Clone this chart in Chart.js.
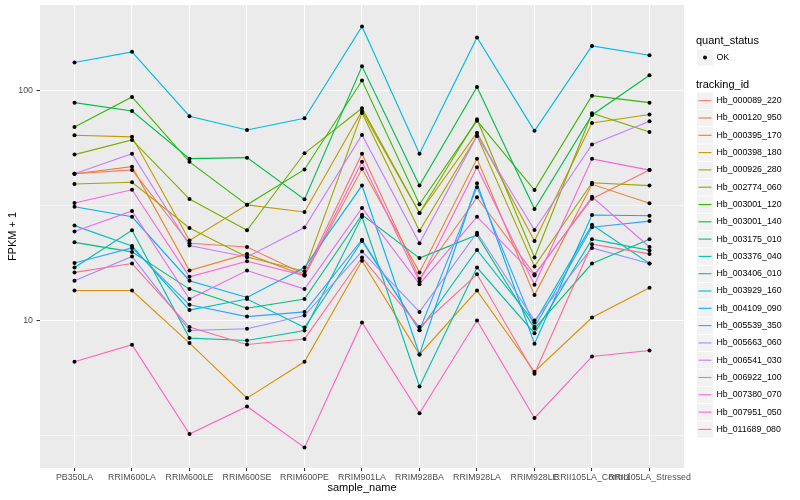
<!DOCTYPE html>
<html><head><meta charset="utf-8">
<script src="https://cdn.jsdelivr.net/npm/chart.js@4.4.1/dist/chart.umd.min.js"></script>
<style>html,body{margin:0;padding:0;background:#fff;} #wrap{width:800px;height:500px;}</style>
</head><body><div id="wrap"><canvas id="c" width="800" height="500"></canvas></div>
<script>
const categories = ["PB350LA","RRIM600LA","RRIM600LE","RRIM600SE","RRIM600PE","RRIM901LA","RRIM928BA","RRIM928LA","RRIM928LE","RRII105LA_Control","RRII105LA_Stressed"];
const trackingIds = ["Hb_000089_220","Hb_000120_950","Hb_000395_170","Hb_000398_180","Hb_000926_280","Hb_002774_060","Hb_003001_120","Hb_003001_140","Hb_003175_010","Hb_003376_040","Hb_003406_010","Hb_003929_160","Hb_004109_090","Hb_005539_350","Hb_005663_060","Hb_006541_030","Hb_006922_100","Hb_007380_070","Hb_007951_050","Hb_011689_080"];

const hb000089_220 = [43.6, 45.3, 21.7, 20.9, 15.9, 53.3, 15.2, 34.4, 15.9, 33.9, 45.2];
const hb000120_950 = [43.6, 46.8, 16.5, 19.5, 15.7, 45.8, 16.2, 50.6, 12.9, 39.2, 32.4];
const hb000395_170 = [13.5, 13.5, 7.97, 4.59, 6.61, 18.2, 7.11, 13.5, 5.98, 10.3, 13.9];
const hb000398_180 = [64.1, 63.1, 22.3, 31.9, 29.7, 81.8, 29.4, 65.8, 22.2, 72.5, 78.9];
const hb000926_280 = [39.3, 40.0, 25.3, 18.9, 16.4, 80.2, 24.6, 63.7, 17.2, 39.8, 38.7];
const hb002774_060 = [52.8, 61.2, 33.8, 24.7, 53.5, 84.1, 29.4, 75.3, 18.8, 80.0, 66.3];
const hb003001_120 = [69.7, 94.2, 49.1, 31.9, 45.5, 111, 32.1, 74.2, 37.0, 95.4, 88.9];
const hb003001_140 = [88.9, 81.8, 50.7, 51.2, 33.7, 128, 38.7, 104, 30.6, 78.6, 117];
const hb003175_010 = [21.9, 19.9, 13.7, 11.3, 12.4, 28.9, 18.7, 23.6, 9.22, 17.7, 22.6];
const hb003376_040 = [17.0, 24.7, 8.38, 8.18, 9.05, 28.3, 5.16, 17.0, 8.80, 22.6, 20.2];
const hb003406_010 = [25.9, 21.1, 11.1, 12.4, 9.32, 22.2, 9.07, 20.3, 9.80, 26.1, 17.7];
const hb003929_160 = [133, 148, 77.6, 67.6, 76.0, 191, 53.3, 171, 67.0, 157, 143];
const hb004109_090 = [31.3, 28.3, 14.9, 12.6, 17.0, 38.7, 7.11, 39.6, 7.92, 28.8, 28.6];
const hb005539_350 = [17.8, 20.7, 11.7, 10.4, 10.9, 22.5, 9.07, 38.1, 9.36, 25.5, 27.1];
const hb005663_060 = [14.9, 19.0, 9.05, 9.20, 10.5, 20.0, 10.9, 24.1, 10.0, 20.7, 17.7];
const hb006541_030 = [43.6, 53.3, 21.2, 18.9, 25.4, 64.3, 21.7, 63.7, 24.8, 58.4, 73.8];
const hb006922_100 = [24.4, 30.0, 12.4, 16.5, 13.7, 30.9, 14.4, 28.3, 15.7, 34.6, 20.9];
const hb007380_070 = [32.5, 37.1, 15.5, 18.1, 15.7, 49.2, 14.8, 46.5, 14.3, 50.6, 45.2];
const hb007951_050 = [6.61, 7.84, 3.20, 4.22, 2.80, 9.80, 3.94, 10.0, 3.76, 6.97, 7.40];
const hb011689_080 = [16.2, 17.7, 9.36, 7.86, 8.31, 18.8, 9.36, 15.9, 5.86, 21.5, 19.5];

const yTickLabels = [10, 100];
const yMinorBreaks = [3.1623, 31.623];
const yRange = [2.277, 236.8];

const seriesValues = [hb000089_220, hb000120_950, hb000395_170, hb000398_180, hb000926_280, hb002774_060, hb003001_120, hb003001_140, hb003175_010, hb003376_040, hb003406_010, hb003929_160, hb004109_090, hb005539_350, hb005663_060, hb006541_030, hb006922_100, hb007380_070, hb007951_050, hb011689_080];
const palette = ["#F8766D","#EA8331","#D89000","#C09B00","#A3A500","#7CAE00","#39B600","#00BB4E","#00BF7D","#00C1A3","#00BFC4","#00BAE0","#00B0F6","#35A2FF","#9590FF","#C77CFF","#E76BF3","#FA62DB","#FF62BC","#FF6C91"];

const FONT = '"Liberation Sans", Arial, sans-serif';

const datasets = seriesValues.map((vals, i) => ({
  label: trackingIds[i],
  data: vals.map((v, j) => ({x: j, y: v})),
  borderColor: palette[i],
  backgroundColor: palette[i],
  borderWidth: 1.1,
  pointRadius: 0,
  tension: 0,
  fill: false,
  order: 40 - i
}));
datasets.push({
  label: 'OK',
  data: seriesValues.flatMap(vals => vals.map((v, j) => ({x: j, y: v}))),
  showLine: false,
  pointRadius: 2,
  pointBackgroundColor: '#000',
  pointBorderWidth: 0,
  borderColor: '#000',
  order: -1
});

const panelBg = {
  id: 'panelBg',
  beforeDraw(chart) {
    const a = chart.chartArea, ctx = chart.ctx;
    ctx.save();
    ctx.fillStyle = '#EBEBEB';
    ctx.fillRect(a.left, a.top, a.right - a.left, a.bottom - a.top);
    ctx.restore();
  }
};

const ggLegend = {
  id: 'ggLegend',
  afterDraw(chart) {
    const ctx = chart.ctx;
    const x0 = chart.chartArea.right + 13;
    ctx.save();
    ctx.textBaseline = 'middle';
    ctx.textAlign = 'left';
    ctx.fillStyle = '#000';
    ctx.font = '11px ' + FONT;
    ctx.fillText('quant_status', x0 - 1, 41);
    ctx.fillStyle = '#F2F2F2';
    ctx.fillRect(x0, 49.5, 16, 16);
    ctx.fillStyle = '#000';
    ctx.beginPath(); ctx.arc(x0 + 8, 57.5, 2, 0, 2 * Math.PI); ctx.fill();
    ctx.font = '8.8px ' + FONT;
    ctx.fillText('OK', x0 + 19.5, 57.5);
    ctx.font = '11px ' + FONT;
    ctx.fillText('tracking_id', x0 - 1, 84.5);
    trackingIds.forEach((id, i) => {
      const cy = 100.7 + i * 17.3;
      ctx.fillStyle = '#F2F2F2';
      ctx.fillRect(x0, cy - 8, 16, 16.3);
      ctx.strokeStyle = palette[i];
      ctx.lineWidth = 1.1;
      ctx.beginPath(); ctx.moveTo(x0 + 1.5, cy); ctx.lineTo(x0 + 14.5, cy); ctx.stroke();
      ctx.fillStyle = '#000';
      ctx.font = '8.8px ' + FONT;
      ctx.fillText(id, x0 + 19.5, cy);
    });
    ctx.restore();
  }
};

new Chart(document.getElementById('c'), {
  type: 'line',
  data: {datasets},
  plugins: [panelBg, ggLegend],
  options: {
    responsive: false,
    animation: false,
    devicePixelRatio: 1,
    layout: {padding: {left: 0, right: 116, top: 5, bottom: 0}},
    plugins: {legend: {display: false}, tooltip: {enabled: false}},
    scales: {
      x: {
        type: 'linear',
        min: -0.6, max: 10.6,
        bounds: 'data',
        afterBuildTicks: s => { s.ticks = categories.map((_, i) => ({value: i})); },
        afterFit: s => { s.height = 32; s.paddingLeft = 0; s.paddingRight = 0; },
        border: {display: false},
        grid: {color: '#FFFFFF', lineWidth: 1.07, tickColor: '#333333', tickLength: 3, drawTicks: true},
        ticks: {
          autoSkip: false, maxRotation: 0, minRotation: 0, padding: 1.5,
          color: '#4D4D4D', font: {family: FONT, size: 8.8},
          callback: v => categories[v] !== undefined ? categories[v] : ''
        },
        title: {display: true, text: 'sample_name', color: '#000', font: {family: FONT, size: 11}, padding: {top: 0, bottom: 5.5}}
      },
      y: {
        type: 'logarithmic',
        min: yRange[0], max: yRange[1],
        bounds: 'data',
        afterBuildTicks: s => { s.ticks = yMinorBreaks.concat(yTickLabels).sort((a, b) => a - b).map(v => ({value: v})); },
        afterFit: s => { s.width = 40; s.paddingTop = 0; s.paddingBottom = 0; },
        border: {display: false},
        grid: {
          color: '#FFFFFF',
          lineWidth: c => yTickLabels.includes(c.tick && c.tick.value) ? 1.07 : 0.53,
          tickColor: c => yTickLabels.includes(c.tick && c.tick.value) ? '#333333' : 'rgba(0,0,0,0)',
          tickLength: 3.5, drawTicks: true
        },
        ticks: {
          autoSkip: false, padding: 3.5,
          color: '#4D4D4D', font: {family: FONT, size: 8.8},
          callback: v => yTickLabels.includes(v) ? String(v) : ''
        },
        title: {display: true, text: 'FPKM + 1', color: '#000', font: {family: FONT, size: 11}, padding: {top: 6.5, bottom: 0}}
      }
    }
  }
});
</script>
</body></html>
